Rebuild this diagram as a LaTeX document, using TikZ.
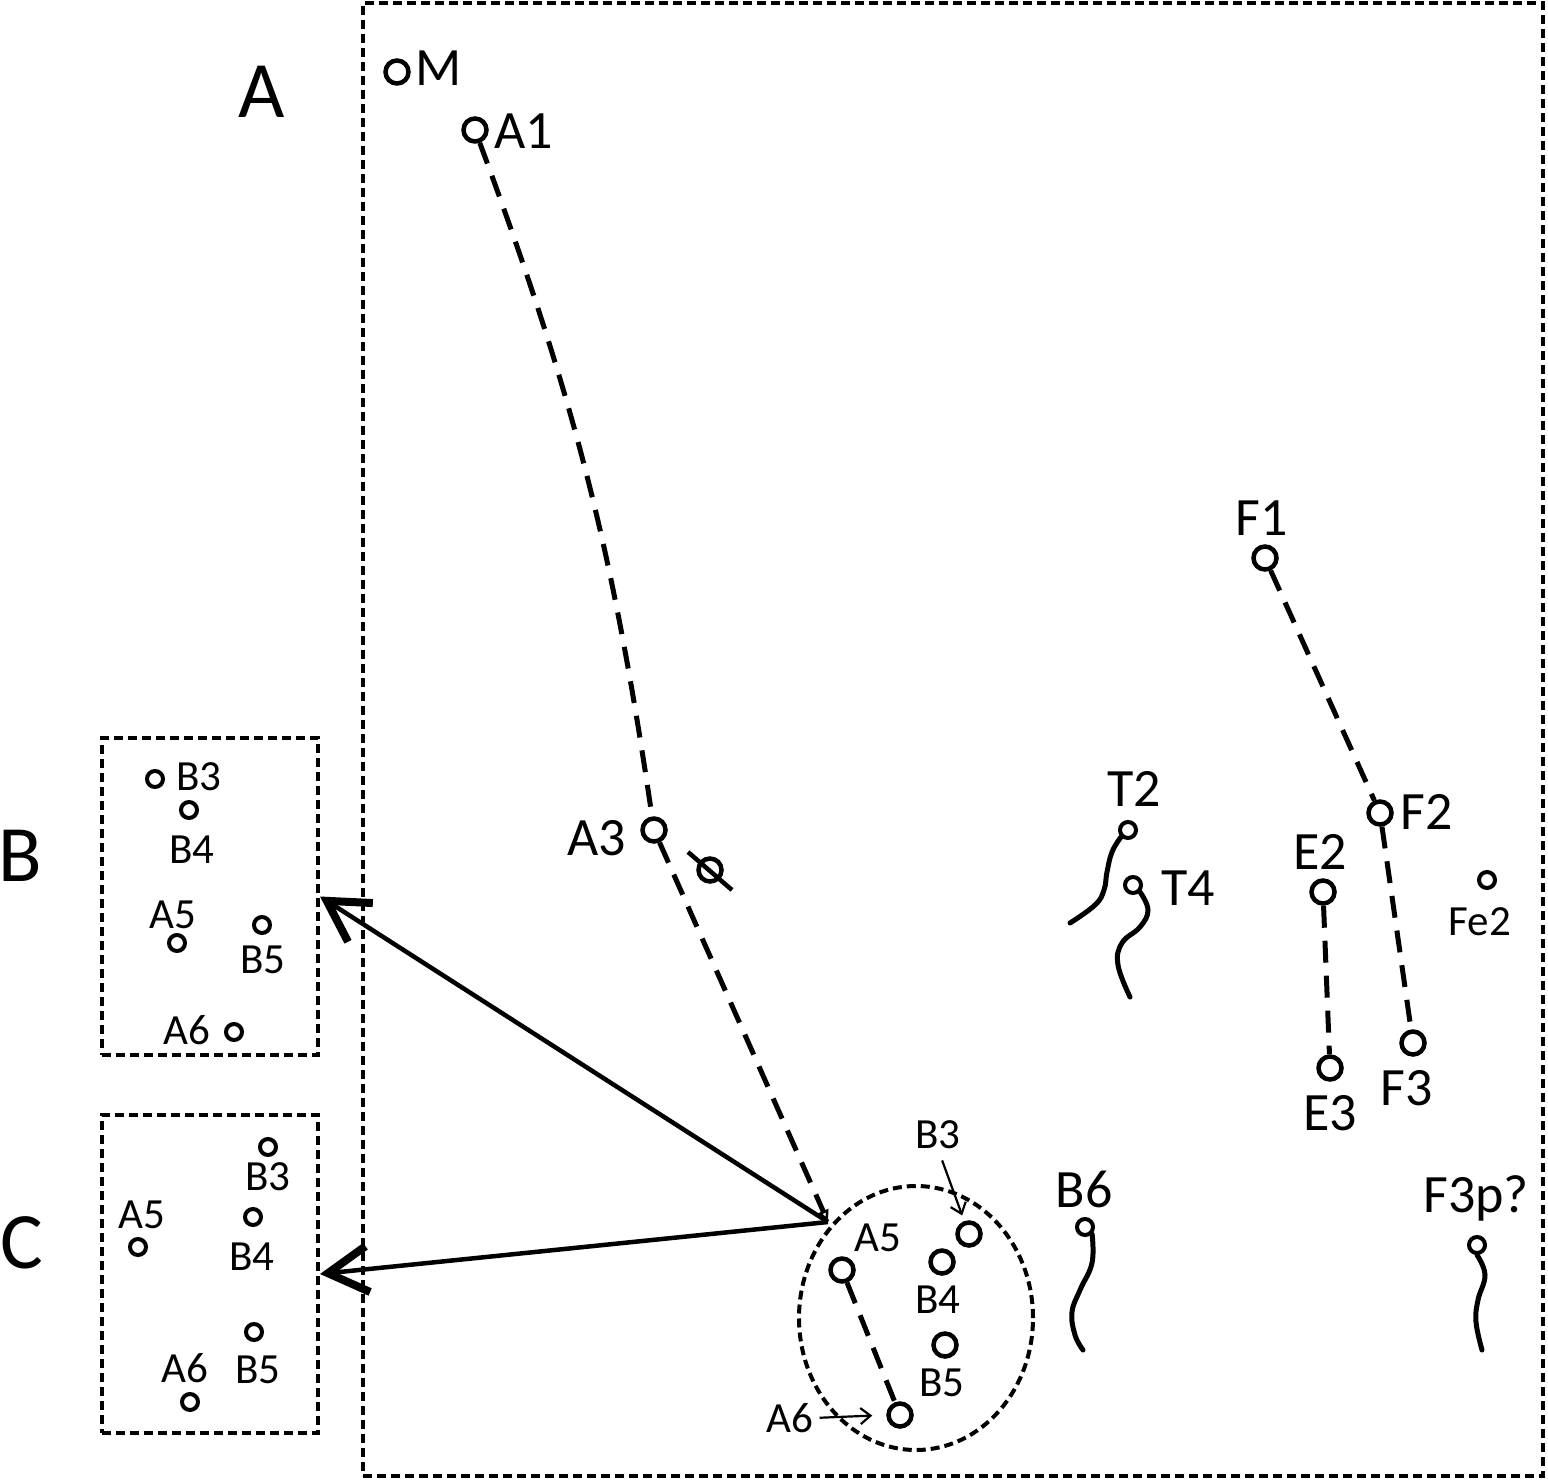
\documentclass[tikz,border=0pt]{standalone}
\usepackage{fontspec}
\setmainfont{Carlito}
\usetikzlibrary{arrows.meta,shapes.geometric,calc}
\begin{document}
\begin{tikzpicture}[x=1pt,y=-1pt,
  big/.style={circle, draw, line width=4.5pt, minimum size=23pt, inner sep=0pt},
  sml/.style={circle, draw, line width=4pt, minimum size=16pt, inner sep=0pt},
  lblL/.style={inner sep=0pt, text depth=0pt, font=\fontsize{54}{60}\selectfont},
  lblS/.style={inner sep=0pt, text depth=0pt, font=\fontsize{43}{50}\selectfont},
  lblH/.style={inner sep=0pt, text depth=0pt, font=\fontsize{80}{90}\selectfont},
  dline/.style={line width=5pt, dash pattern=on 22pt off 13pt},
  dbox/.style={draw, line width=4pt, dash pattern=on 9pt off 5pt, inner sep=0pt},
  tail/.style={line width=5pt, line cap=round},
  bigarrow/.style={line width=4.5pt, -{Straight Barb[length=40pt,width=46pt,line width=8pt]}},
  smallarrow/.style={line width=2.2pt, -{Straight Barb[length=10pt,width=16pt]}}
]
\useasboundingbox (0,0) rectangle (1548,1482);

% frames
\node[dbox, minimum width=1180pt, minimum height=1473pt] (frame) at (953,739.5) {};
\node[dbox, minimum width=216pt, minimum height=317pt] (Bbox) at (210,896.5) {};
\node[dbox, minimum width=216pt, minimum height=318pt] (Cbox) at (210,1274) {};
\node[dbox, ellipse, minimum width=234pt, minimum height=264pt] (ell) at (916,1318) {};

% panel letters
\node[lblH] (LA) at (262,92) {A};
\node[lblH] (LB) at (20,856) {B};
\node[lblH] (LC) at (22,1243) {C};

% main panel points
\node[big] (M) at (397,72) {};
\node[lblL] (lM) at (439,68) {M};
\node[big] (A1) at (475,130) {};
\node[lblL] (lA1) at (524,131) {A1};
\node[big] (A3) at (654,830) {};
\node[lblL] (lA3) at (597,838) {A3};
\node[big] (X) at (710,870) {};
\draw[line width=4.5pt] ($(X)+(-22,-18)$) -- ($(X)+(22,20)$);

\node[big] (F1) at (1265,558) {};
\node[lblL] (lF1) at (1262,518) {F1};
\node[big] (F2) at (1380,813) {};
\node[lblL] (lF2) at (1427,812) {F2};
\node[big] (E2) at (1323,892) {};
\node[lblL] (lE2) at (1320,852) {E2};
\node[big] (E3) at (1330,1068) {};
\node[lblL] (lE3) at (1330,1113) {E3};
\node[big] (F3) at (1413,1043) {};
\node[lblL] (lF3) at (1407,1088) {F3};
\node[sml] (Fe2) at (1487,880) {};
\node[lblS] (lFe2) at (1480,922) {Fe2};

\node[sml] (T2) at (1128,830) {};
\node[lblL] (lT2) at (1134,789) {T2};
\node[sml] (T4) at (1133,885) {};
\node[lblL] (lT4) at (1188,888) {T4};
\node[sml] (B6) at (1085,1227) {};
\node[lblL] (lB6) at (1084,1189) {B6};
\node[sml] (F3p) at (1477,1245) {};
\node[lblL] (lF3p) at (1476,1194) {F3p?};

% tails
\draw[tail] plot[smooth, tension=0.7] coordinates {(T2.south west) (1112,852) (1107,872) (1104,890) (1095,905) (1070,923)};
\draw[tail] plot[smooth, tension=0.7] coordinates {(T4.south east) (1148,910) (1140,927) (1122,943) (1118,965) (1130,997)};
\draw[tail] plot[smooth, tension=0.7] coordinates {(B6.south east) (1092,1263) (1080,1290) (1072,1312) (1075,1335) (1083,1350)};
\draw[tail] plot[smooth, tension=0.7] coordinates {(F3p.south) (1485,1275) (1478,1300) (1476,1322) (1482,1350)};

% ellipse cluster
\node[big] (eA5) at (842,1270) {};
\node[lblS] (leA5) at (878,1238) {A5};
\node[big] (eB3) at (969,1234) {};
\node[lblS] (leB3) at (938,1135) {B3};
\node[big] (eB4) at (942,1262) {};
\node[lblS] (leB4) at (938,1300) {B4};
\node[big] (eB5) at (945,1345) {};
\node[lblS] (leB5) at (942,1383) {B5};
\node[big] (eA6) at (900,1415) {};
\node[lblS] (leA6) at (790,1418) {A6};
\draw[smallarrow, shorten <=12pt, shorten >=6pt] (leB3.south) -- (eB3);
\draw[smallarrow, shorten <=6pt, shorten >=14pt] (leA6.east) -- (eA6.west);

% box B
\node[sml] (bB3) at (155,779) {};
\node[lblS] (lbB3) at (199,777) {B3};
\node[sml] (bB4) at (189,810) {};
\node[lblS] (lbB4) at (192,850) {B4};
\node[sml] (bA5) at (177,943) {};
\node[lblS] (lbA5) at (173,915) {A5};
\node[sml] (bB5) at (262,925) {};
\node[lblS] (lbB5) at (263,960) {B5};
\node[sml] (bA6) at (234,1032) {};
\node[lblS] (lbA6) at (187,1030) {A6};

% box C
\node[sml] (cB3) at (268,1147) {};
\node[lblS] (lcB3) at (268,1177) {B3};
\node[sml] (cA5) at (138,1247) {};
\node[lblS] (lcA5) at (142,1215) {A5};
\node[sml] (cB4) at (253,1217) {};
\node[lblS] (lcB4) at (252,1257) {B4};
\node[sml] (cB5) at (254,1332) {};
\node[lblS] (lcB5) at (258,1370) {B5};
\node[sml] (cA6) at (190,1402) {};
\node[lblS] (lcA6) at (185,1368) {A6};

% connectors
\coordinate (P) at (828,1222);
\draw[dline] (A1) to[bend left=6] (A3);
\draw[dline, -{Triangle[open, length=12pt, width=11pt, line width=2.5pt]}] (A3) -- (P);
\draw[dline] (eA5) -- (eA6);
\draw[dline] (F1) -- (F2);
\draw[dline] (F2) -- (F3);
\draw[dline] (E2) -- (E3);
\draw[bigarrow] (P) -- (Bbox.east);
\draw[bigarrow] (P) -- (Cbox.east);
\end{tikzpicture}
\end{document}
